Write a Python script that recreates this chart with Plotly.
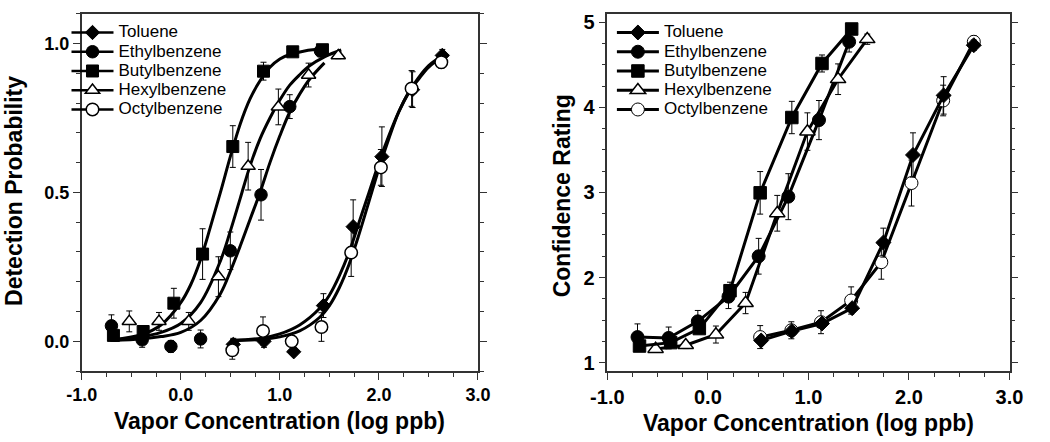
import plotly.graph_objects as go

# ---------------- data ----------------
series_names = ["Toluene", "Ethylbenzene", "Butylbenzene", "Hexylbenzene", "Octylbenzene"]

# Left panel: detection probability (measured points)
tol_x_L = [0.53, 0.84, 1.14, 1.44, 1.74, 2.03, 2.34, 2.64]
tol_y_L = [-0.01, 0.00, -0.035, 0.12, 0.385, 0.62, 0.845, 0.96]
tol_e_L = [0.02, 0.02, 0.0, 0.04, 0.09, 0.10, 0.06, 0.02]

eth_x_L = [-0.70, -0.39, -0.10, 0.20, 0.50, 0.81, 1.10, 1.41]
eth_y_L = [0.052, 0.005, -0.017, 0.008, 0.304, 0.492, 0.788, 0.975]
eth_e_L = [0.037, 0.025, 0.02, 0.03, 0.063, 0.085, 0.04, 0.02]

but_x_L = [-0.68, -0.38, -0.07, 0.22, 0.525, 0.835, 1.13, 1.43]
but_y_L = [0.02, 0.033, 0.128, 0.293, 0.654, 0.907, 0.972, 0.979]
but_e_L = [0.02, 0.02, 0.05, 0.085, 0.07, 0.03, 0.01, 0.01]

hex_x_L = [-0.52, -0.22, 0.08, 0.38, 0.68, 0.985, 1.29, 1.59]
hex_y_L = [0.067, 0.067, 0.067, 0.217, 0.588, 0.787, 0.894, 0.959]
hex_e_L = [0.035, 0.03, 0.03, 0.067, 0.08, 0.06, 0.04, 0.01]

oct_x_L = [0.52, 0.83, 1.12, 1.42, 1.72, 2.02, 2.33, 2.63]
oct_y_L = [-0.03, 0.035, 0.0, 0.048, 0.298, 0.584, 0.849, 0.937]
oct_e_L = [0.03, 0.047, 0.0, 0.048, 0.08, 0.06, 0.06, 0.02]

# Left panel: fitted psychometric curves
fit_x_but = [-0.68, -0.4, -0.2, 0.0, 0.1, 0.2, 0.3, 0.4, 0.5, 0.6, 0.7, 0.8, 0.9, 1.0, 1.1, 1.25, 1.45]
fit_y_but = [0.005, 0.022, 0.055, 0.13, 0.19, 0.275, 0.385, 0.50, 0.62, 0.73, 0.815, 0.875, 0.92, 0.948, 0.963, 0.975, 0.982]

fit_x_hex = [-0.68, -0.4, -0.2, 0.0, 0.2, 0.4, 0.5, 0.6, 0.7, 0.8, 0.9, 1.0, 1.1, 1.2, 1.3, 1.45, 1.62]
fit_y_hex = [0.005, 0.015, 0.03, 0.06, 0.13, 0.27, 0.37, 0.48, 0.59, 0.68, 0.75, 0.81, 0.86, 0.895, 0.925, 0.955, 0.978]

fit_x_eth = [-0.68, -0.4, -0.2, 0.0, 0.2, 0.4, 0.5, 0.6, 0.7, 0.8, 0.9, 1.0, 1.1, 1.2, 1.3, 1.45]
fit_y_eth = [0.003, 0.008, 0.016, 0.03, 0.07, 0.16, 0.235, 0.32, 0.41, 0.50, 0.60, 0.69, 0.77, 0.83, 0.88, 0.935]

fit_x_tol = [0.5, 0.8, 1.0, 1.2, 1.4, 1.5, 1.6, 1.7, 1.8, 1.9, 2.0, 2.1, 2.2, 2.3, 2.4, 2.5, 2.65]
fit_y_tol = [0.003, 0.01, 0.025, 0.055, 0.11, 0.155, 0.22, 0.30, 0.40, 0.50, 0.60, 0.69, 0.77, 0.835, 0.88, 0.92, 0.958]

fit_x_oct = [0.5, 0.8, 1.0, 1.2, 1.4, 1.5, 1.6, 1.7, 1.8, 1.9, 2.0, 2.1, 2.2, 2.3, 2.4, 2.5, 2.65]
fit_y_oct = [0.002, 0.006, 0.015, 0.035, 0.08, 0.12, 0.18, 0.26, 0.36, 0.47, 0.58, 0.68, 0.77, 0.835, 0.885, 0.925, 0.96]

# Right panel: confidence rating
tol_x_R = [0.53, 0.835, 1.135, 1.435, 1.745, 2.04, 2.345, 2.645]
tol_y_R = [1.26, 1.37, 1.46, 1.64, 2.41, 3.44, 4.14, 4.73]
tol_e_R = [0.05, 0.05, 0.05, 0.05, 0.17, 0.26, 0.22, 0.06]

eth_x_R = [-0.70, -0.39, -0.10, 0.205, 0.505, 0.80, 1.105, 1.405]
eth_y_R = [1.30, 1.29, 1.485, 1.775, 2.25, 2.95, 3.85, 4.77]
eth_e_R = [0.155, 0.128, 0.128, 0.14, 0.21, 0.27, 0.23, 0.12]

but_x_R = [-0.68, -0.37, -0.085, 0.22, 0.52, 0.835, 1.135, 1.43]
but_y_R = [1.195, 1.235, 1.40, 1.845, 2.995, 3.88, 4.515, 4.92]
but_e_R = [0.05, 0.05, 0.06, 0.10, 0.25, 0.19, 0.10, 0.03]

hex_x_R = [-0.52, -0.22, 0.08, 0.375, 0.69, 0.99, 1.295, 1.585]
hex_y_R = [1.16, 1.205, 1.33, 1.70, 2.755, 3.715, 4.33, 4.80]
hex_e_R = [0.03, 0.04, 0.10, 0.125, 0.21, 0.22, 0.18, 0.06]

oct_x_R = [0.52, 0.83, 1.125, 1.425, 1.725, 2.025, 2.34, 2.645]
oct_y_R = [1.30, 1.38, 1.475, 1.73, 2.18, 3.11, 4.08, 4.77]
oct_e_R = [0.135, 0.10, 0.135, 0.16, 0.20, 0.27, 0.18, 0.07]

x_tickvals = [-1, 0, 1, 2, 3]
x_ticktext = ["-1.0", "0.0", "1.0", "2.0", "3.0"]
yL_tickvals = [0, 0.5, 1.0]
yL_ticktext = ["0.0", "0.5", "1.0"]
yR_tickvals = [1, 2, 3, 4, 5]
yR_ticktext = ["1", "2", "3", "4", "5"]

x_title = "Vapor Concentration (log ppb)"
yL_title = "Detection Probability"
yR_title = "Confidence Rating"

# ---------------- styling ----------------
FONT = "Liberation Sans, Arial, Helvetica, sans-serif"
BLACK = "black"

marker_styles = {
    "Toluene": dict(symbol="diamond", size=11, color=BLACK, line=dict(color=BLACK, width=1)),
    "Ethylbenzene": dict(symbol="circle", size=12.5, color=BLACK, line=dict(color=BLACK, width=1)),
    "Butylbenzene": dict(symbol="square", size=12, color=BLACK, line=dict(color=BLACK, width=1)),
    "Hexylbenzene": dict(symbol="triangle-up", size=12.5, color="white", line=dict(color=BLACK, width=1.5)),
    "Octylbenzene": dict(symbol="circle", size=12.5, color="white", line=dict(color=BLACK, width=1.5)),
}
marker_styles_R = {
    "Toluene": dict(symbol="diamond", size=11.5, color=BLACK, line=dict(color=BLACK, width=1)),
    "Ethylbenzene": dict(symbol="circle", size=13, color=BLACK, line=dict(color=BLACK, width=1)),
    "Butylbenzene": dict(symbol="square", size=12.5, color=BLACK, line=dict(color=BLACK, width=1)),
    "Hexylbenzene": dict(symbol="triangle-up", size=13.5, color="white", line=dict(color=BLACK, width=1.5)),
    "Octylbenzene": dict(symbol="circle", size=13, color="white", line=dict(color=BLACK, width=1)),
}

left_points = {
    "Toluene": (tol_x_L, tol_y_L, tol_e_L),
    "Ethylbenzene": (eth_x_L, eth_y_L, eth_e_L),
    "Butylbenzene": (but_x_L, but_y_L, but_e_L),
    "Hexylbenzene": (hex_x_L, hex_y_L, hex_e_L),
    "Octylbenzene": (oct_x_L, oct_y_L, oct_e_L),
}
left_fits = {
    "Toluene": (fit_x_tol, fit_y_tol),
    "Ethylbenzene": (fit_x_eth, fit_y_eth),
    "Butylbenzene": (fit_x_but, fit_y_but),
    "Hexylbenzene": (fit_x_hex, fit_y_hex),
    "Octylbenzene": (fit_x_oct, fit_y_oct),
}
right_points = {
    "Toluene": (tol_x_R, tol_y_R, tol_e_R),
    "Ethylbenzene": (eth_x_R, eth_y_R, eth_e_R),
    "Butylbenzene": (but_x_R, but_y_R, but_e_R),
    "Hexylbenzene": (hex_x_R, hex_y_R, hex_e_R),
    "Octylbenzene": (oct_x_R, oct_y_R, oct_e_R),
}


def legend_label(n):
    return '<span style="font-size:17px">' + n + "</span>"


fig = go.Figure()

# fitted curves (left)
for n in series_names:
    fx, fy = left_fits[n]
    fig.add_trace(go.Scatter(x=fx, y=fy, mode="lines", line=dict(color=BLACK, width=3, shape="spline"),
                             showlegend=False, xaxis="x", yaxis="y", hoverinfo="skip"))

# measured points (left)
for n in series_names:
    px, py, pe = left_points[n]
    fig.add_trace(go.Scatter(x=px, y=py, mode="markers", marker=marker_styles[n],
                             error_y=dict(type="data", array=pe, visible=True, color=BLACK, thickness=1, width=3),
                             showlegend=False, xaxis="x", yaxis="y", name=n))

# legend entries (left)
for i, n in enumerate(series_names):
    fig.add_trace(go.Scatter(x=[None], y=[None], mode="lines+markers", name=legend_label(n),
                             line=dict(color=BLACK, width=2.5), marker=marker_styles[n],
                             xaxis="x", yaxis="y", legend="legend", legendrank=i + 1))

# right panel lines + markers
order_R = ["Octylbenzene", "Toluene", "Ethylbenzene", "Hexylbenzene", "Butylbenzene"]
for n in order_R:
    px, py, pe = right_points[n]
    fig.add_trace(go.Scatter(x=px, y=py, mode="lines+markers", name=legend_label(n),
                             line=dict(color=BLACK, width=3), marker=marker_styles_R[n],
                             error_y=dict(type="data", array=pe, visible=True, color=BLACK, thickness=1, width=3),
                             xaxis="x2", yaxis="y2", legend="legend2",
                             legendrank=series_names.index(n) + 1))

W, H = 1050, 442
xdomL = [66.7 / W, 475.0 / W]
xdomR = [608.3 / W, 1022.7 / W]
ydom = [1 - 372.5 / H, 1 - 11.8 / H]

axis_common = dict(showline=True, linecolor="#333333", linewidth=1.5, ticks="outside",
                   tickcolor="#333333", tickwidth=1.3, ticklen=7, showgrid=False, zeroline=False,
                   tickfont=dict(family=FONT, size=18, color=BLACK, weight="bold"))
right_font = dict(family=FONT, size=20, color=BLACK, weight="bold")

fig.update_layout(
    width=W, height=H, margin=dict(l=0, r=0, t=0, b=0),
    paper_bgcolor="white", plot_bgcolor="white",
    xaxis=dict(domain=xdomL, range=[-1, 3], anchor="y", mirror=True, tickmode="array",
               tickvals=x_tickvals, ticktext=x_ticktext,
               minor=dict(dtick=0.25, tick0=-1, ticks="outside", ticklen=4, tickcolor="#333333", tickwidth=1.2),
               **axis_common),
    yaxis=dict(domain=ydom, range=[-0.1, 1.1], anchor="x", mirror="allticks", tickmode="array",
               tickvals=yL_tickvals, ticktext=yL_ticktext,
               minor=dict(dtick=0.1, tick0=0, ticks="outside", ticklen=4, tickcolor="#333333", tickwidth=1.2),
               **axis_common),
    xaxis2=dict(domain=xdomR, range=[-1, 3], anchor="y2", mirror=True, tickmode="array",
                tickvals=x_tickvals, ticktext=x_ticktext,
                minor=dict(dtick=0.25, tick0=-1, ticks="outside", ticklen=4, tickcolor="#333333", tickwidth=1.2),
                **{**axis_common, "tickfont": right_font}),
    yaxis2=dict(domain=ydom, range=[0.9, 5.1], anchor="x2", mirror="allticks", tickmode="array",
                tickvals=yR_tickvals, ticktext=yR_ticktext,
                minor=dict(dtick=0.25, tick0=1, ticks="outside", ticklen=4, tickcolor="#333333", tickwidth=1.2),
                **{**axis_common, "tickfont": right_font}),
    legend=dict(x=51 / W, y=1 - 16 / H, xanchor="left", yanchor="top", bgcolor="rgba(0,0,0,0)",
                font=dict(family=FONT, size=12.5, color=BLACK), itemwidth=42, tracegroupgap=0,
                borderwidth=0, traceorder="normal"),
    legend2=dict(x=613 / W, y=1 - 16 / H, xanchor="left", yanchor="top", bgcolor="rgba(0,0,0,0)",
                 font=dict(family=FONT, size=12.5, color=BLACK), itemwidth=42, tracegroupgap=0,
                 borderwidth=0, traceorder="normal"),
    showlegend=True,
)

title_font = dict(family=FONT, size=23, color=BLACK, weight="bold")
fig.add_annotation(text=x_title, x=270.8 / W, y=1 - 423 / H, xref="paper", yref="paper",
                   showarrow=False, xanchor="center", yanchor="middle", font=title_font)
fig.add_annotation(text=x_title, x=815.5 / W, y=1 - 425 / H, xref="paper", yref="paper",
                   showarrow=False, xanchor="center", yanchor="middle", font=title_font)
fig.add_annotation(text=yL_title, x=10 / W, y=1 - 191 / H, xref="paper", yref="paper", textangle=-90,
                   showarrow=False, xanchor="center", yanchor="middle", xshift=-12, font=title_font)
fig.add_annotation(text=yR_title, x=561.7 / W, y=1 - 196 / H, xref="paper", yref="paper", textangle=-90,
                   showarrow=False, xanchor="center", yanchor="middle", font=title_font)

fig.write_html("out.html", include_plotlyjs=True, config={"displayModeBar": False},
               post_script="document.body.style.margin='0';document.body.style.overflow='hidden';")
